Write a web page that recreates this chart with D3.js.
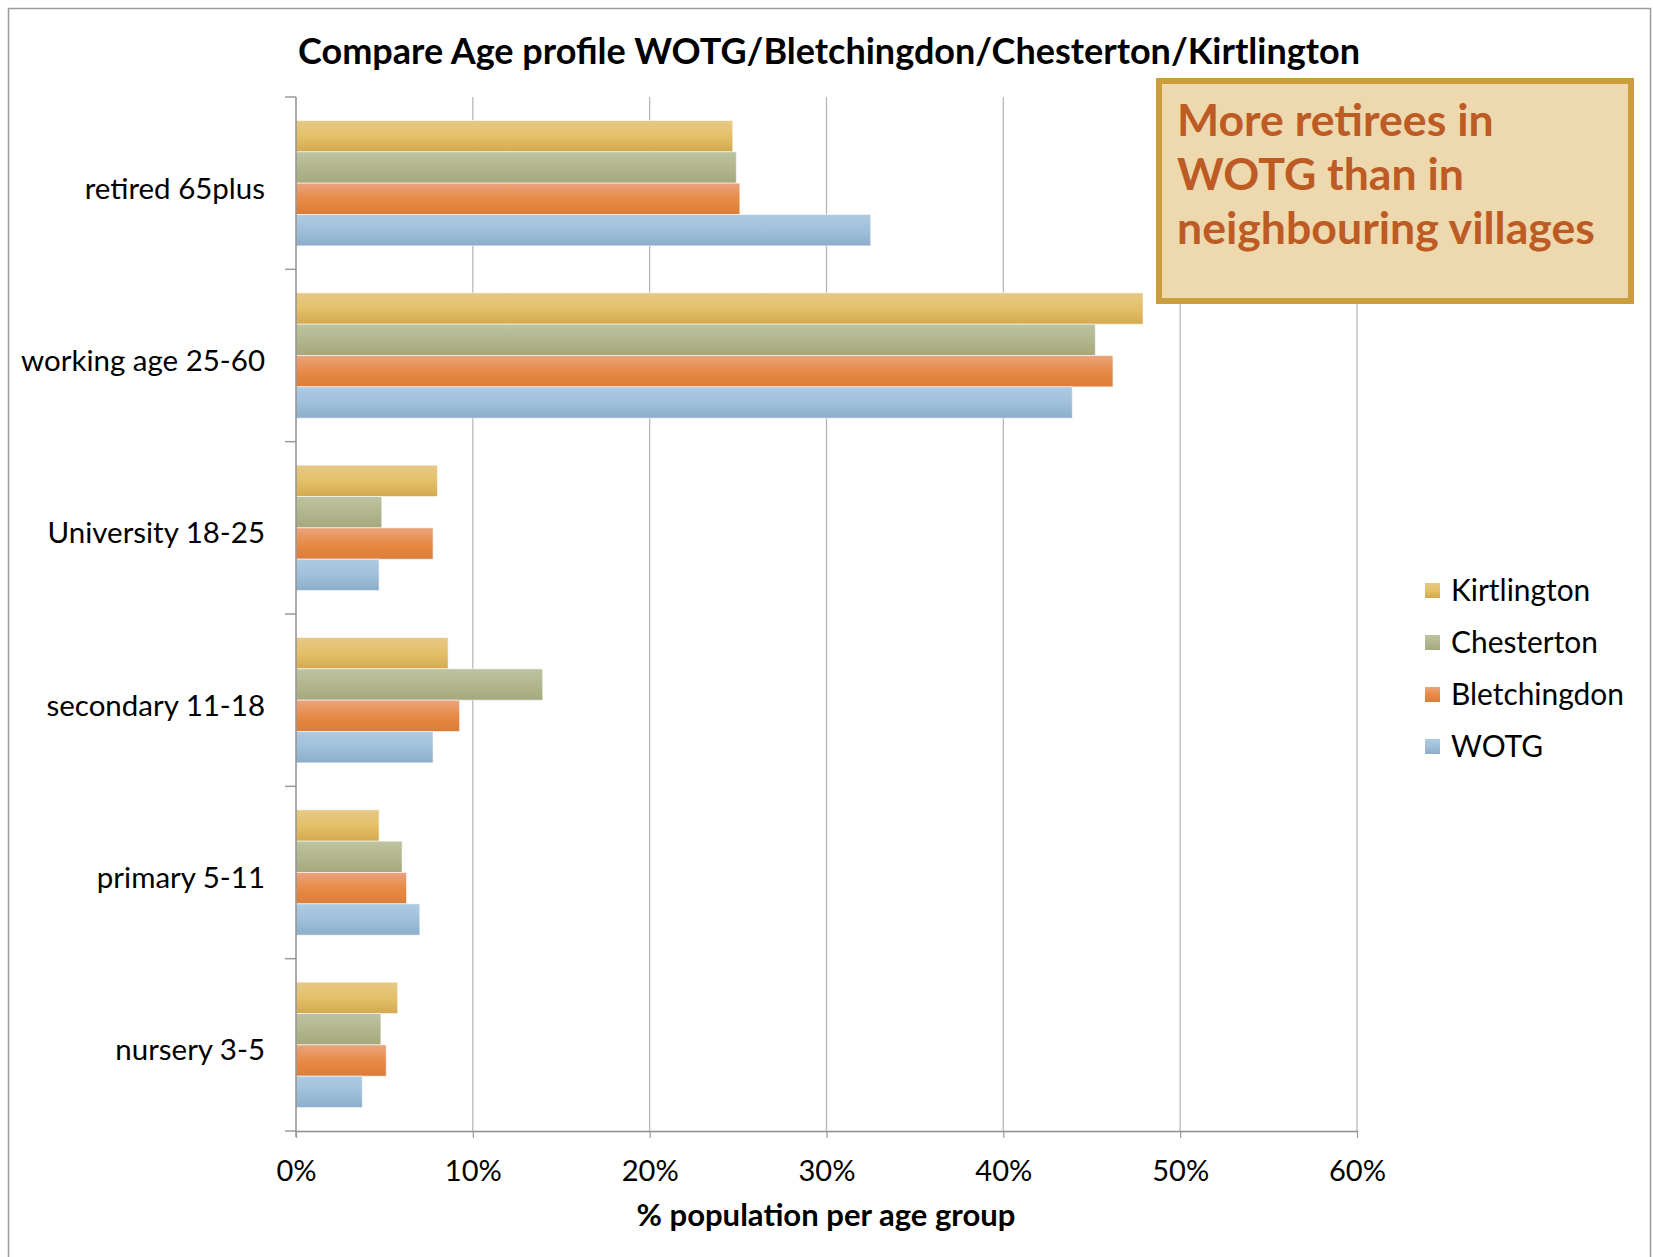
<!DOCTYPE html>
<html>
<head>
<meta charset="utf-8">
<script src="https://cdn.jsdelivr.net/npm/d3@7"></script>
<style>
  html, body { margin: 0; padding: 0; background: #ffffff; }
  svg { display: block; }
  text { font-family: Lato, "Open Sans", sans-serif; }
</style>
</head>
<body>
<svg id="chart" width="1653" height="1257"></svg>
<script>
// ---------- data ----------
const categories = ["retired 65plus", "working age 25-60", "University 18-25", "secondary 11-18", "primary 5-11", "nursery 3-5"];
const seriesNames = ["Kirtlington", "Chesterton", "Bletchingdon", "WOTG"];
const kirtlington  = [24.7, 47.9, 8.0, 8.6, 4.7, 5.75];
const chesterton   = [24.9, 45.2, 4.85, 13.95, 6.0, 4.8];
const bletchingdon = [25.1, 46.2, 7.75, 9.25, 6.25, 5.1];
const wotg         = [32.5, 43.9, 4.7, 7.75, 7.0, 3.75];
const xTicks = [0, 10, 20, 30, 40, 50, 60];
const titleText = "Compare Age profile WOTG/Bletchingdon/Chesterton/Kirtlington";
const xAxisTitle = "%  population per age group";
const noteLines = ["More retirees in", "WOTG than in", "neighbouring villages"];

const seriesValues = [kirtlington, chesterton, bletchingdon, wotg];

// ---------- styles ----------
const gradStops = {
  "Kirtlington":  ["#e6c986", "#e4c068", "#d3a94f"],
  "Chesterton":   ["#bec3a0", "#b2b68f", "#a4a87b"],
  "Bletchingdon": ["#eba47e", "#e78b47", "#dc7c39"],
  "WOTG":         ["#aecbe2", "#a0bfda", "#8cadca"]
};

const svg = d3.select("#chart");
const W = 1653, H = 1257;
const pLeft = 296, pRight = 1357, pTop = 97, pBottom = 1131;

function fit(sel, target) {
  const w = sel.node().getComputedTextLength();
  const fs = parseFloat(sel.attr("font-size"));
  return fs * target / w;
}

// defs: gradients
const defs = svg.append("defs");
seriesNames.forEach((s, i) => {
  const g = defs.append("linearGradient").attr("id", "g" + i)
    .attr("x1", 0).attr("y1", 0).attr("x2", 0).attr("y2", 1);
  g.append("stop").attr("offset", "0%").attr("stop-color", gradStops[s][0]);
  g.append("stop").attr("offset", "50%").attr("stop-color", gradStops[s][1]);
  g.append("stop").attr("offset", "100%").attr("stop-color", gradStops[s][2]);
});

// background + outer frame
svg.append("rect").attr("width", W).attr("height", H).attr("fill", "#ffffff");
svg.append("rect").attr("x", 8.5).attr("y", 8.5).attr("width", 1642).attr("height", 1300)
  .attr("fill", "none").attr("stroke", "#9c9c9c").attr("stroke-width", 1.5);

// scales
const x = d3.scaleLinear().domain([0, 60]).range([pLeft, pRight]);
const y = d3.scaleBand().domain(categories).range([pTop, pBottom]).paddingInner(0).paddingOuter(0);
const ySub = d3.scaleBand().domain(seriesNames).range([0, y.bandwidth()]).paddingInner(0).paddingOuter(0.75);

// gridlines
svg.append("g").selectAll("line").data(xTicks.filter(d => d > 0)).join("line")
  .attr("x1", d => x(d)).attr("x2", d => x(d))
  .attr("y1", pTop).attr("y2", pBottom)
  .attr("stroke", "#b3b3b3").attr("stroke-width", 1.2);

// bars
const groups = svg.append("g").selectAll("g").data(categories).join("g")
  .attr("transform", c => `translate(0,${y(c)})`);
groups.selectAll("rect")
  .data((c, ci) => seriesNames.map((s, si) => ({ s, si, v: seriesValues[si][ci] })))
  .join("rect")
  .attr("x", x(0))
  .attr("y", d => ySub(d.s))
  .attr("width", d => x(d.v) - x(0))
  .attr("height", ySub.bandwidth())
  .attr("fill", d => `url(#g${d.si})`)
  .attr("stroke", "rgba(255,255,255,0.55)")
  .attr("stroke-width", 1);

// y axis (category labels)
const yAxis = svg.append("g").attr("transform", `translate(${pLeft},0)`)
  .call(d3.axisLeft(y).tickSize(0).tickPadding(31));
yAxis.select(".domain").remove();
const catLabels = yAxis.selectAll(".tick text").attr("fill", "#000").attr("font-size", 26)
  .attr("dy", "0.52em");
const refCat = catLabels.filter(d => d === "working age 25-60");
const catFs = fit(refCat, 244);
catLabels.attr("font-size", catFs);

// y axis line & boundary ticks
const bounds = categories.map(c => y(c)).concat([pBottom]);
svg.append("g").selectAll("line").data(bounds).join("line")
  .attr("x1", pLeft - 11).attr("x2", pLeft).attr("y1", d => d).attr("y2", d => d)
  .attr("stroke", "#9a9a9a").attr("stroke-width", 1.5);
svg.append("line").attr("x1", pLeft).attr("x2", pLeft).attr("y1", pTop).attr("y2", pBottom + 6)
  .attr("stroke", "#8e8e8e").attr("stroke-width", 1.5);

// x axis
const xAxis = svg.append("g").attr("transform", `translate(0,${pBottom})`)
  .call(d3.axisBottom(x).tickValues(xTicks).tickFormat(d => d + "%").tickSize(7).tickPadding(22).tickSizeOuter(0));
xAxis.select(".domain").attr("stroke", "#8e8e8e").attr("stroke-width", 1.5);
xAxis.selectAll(".tick line").attr("stroke", "#9a9a9a").attr("stroke-width", 1.2);
const xLabels = xAxis.selectAll(".tick text").attr("fill", "#000").attr("font-size", 28);
const xFs = fit(xLabels.filter(d => d === 10), 57);
xLabels.attr("font-size", xFs);

// x axis title
const xt = svg.append("text").attr("x", 826).attr("y", 1226).attr("text-anchor", "middle")
  .attr("font-weight", "bold").attr("font-size", 28).attr("fill", "#000").text(xAxisTitle);
xt.attr("font-size", fit(xt, 379));

// title
const tt = svg.append("text").attr("x", 829).attr("y", 64).attr("text-anchor", "middle")
  .attr("font-weight", "bold").attr("font-size", 32).attr("fill", "#000").text(titleText);
tt.attr("font-size", fit(tt, 1062));

// legend
const legend = svg.append("g");
const legRows = legend.selectAll("g").data(seriesNames).join("g")
  .attr("transform", (d, i) => `translate(1425,${591 + i * 52})`);
legRows.append("rect").attr("x", 0).attr("y", -8).attr("width", 15).attr("height", 15)
  .attr("fill", (d, i) => `url(#g${i})`);
const legTexts = legRows.append("text").attr("x", 26).attr("y", 0).attr("dy", "0.35em")
  .attr("font-size", 28).attr("fill", "#000").text(d => d);
const legFs = fit(legTexts.filter(d => d === "Bletchingdon"), 173);
legTexts.attr("font-size", legFs);

// annotation box
svg.append("rect").attr("x", 1159).attr("y", 81).attr("width", 472).attr("height", 220)
  .attr("fill", "#eed8ad").attr("stroke", "#c99e3b").attr("stroke-width", 6);
const note = svg.append("g");
const noteTexts = note.selectAll("text").data(noteLines).join("text")
  .attr("x", 1177).attr("y", (d, i) => 136 + i * 54)
  .attr("font-weight", "bold").attr("font-size", 36).attr("fill", "#bd5b25").text(d => d);
const noteFs = fit(noteTexts.filter(d => d === "neighbouring villages"), 418);
noteTexts.attr("font-size", noteFs);
</script>
</body>
</html>
